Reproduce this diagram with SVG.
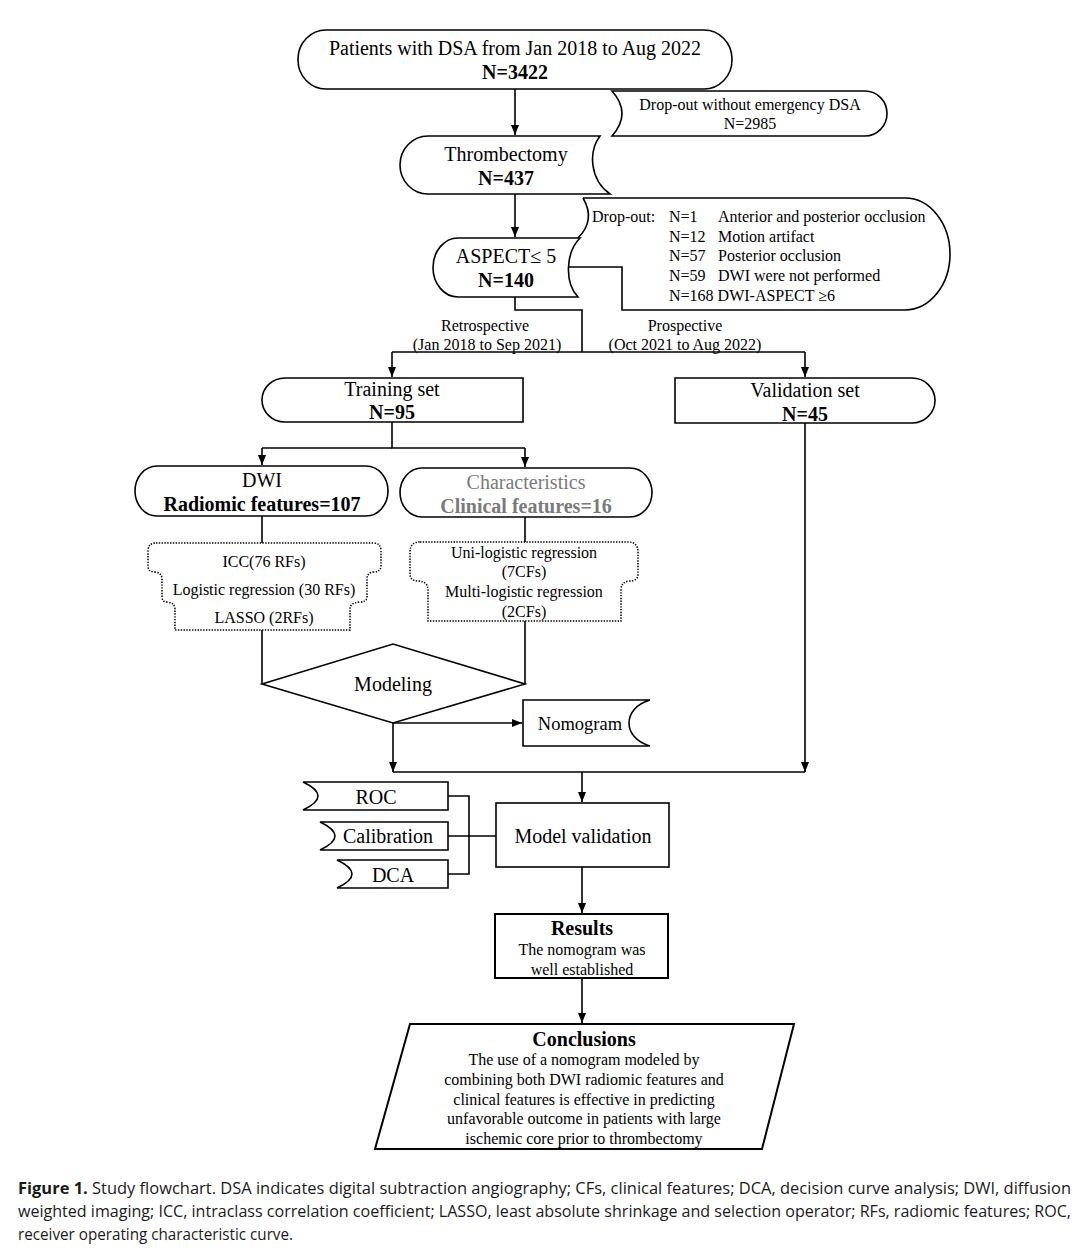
<svg xmlns="http://www.w3.org/2000/svg" width="1080" height="1256" viewBox="0 0 1080 1256">
<style>
.s{fill:#fff;stroke:#000;stroke-width:1.6}
.d{fill:#fff;stroke:#000;stroke-width:1.5;stroke-dasharray:1.4 1.4}
.c{fill:none;stroke:#000;stroke-width:1.6}
.t{font-family:"Liberation Serif","Times New Roman",serif;font-size:20px;fill:#000;text-anchor:middle}
.sm{font-size:16px}
.b{font-weight:bold}
.g{fill:#7a7a7a}
.l{text-anchor:start}
.cap{font-family:"Open Sans","Noto Sans",sans-serif;font-size:16px;fill:#1a1a1a}
</style>
<defs>
<marker id="ah" markerUnits="userSpaceOnUse" markerWidth="10" markerHeight="10" refX="10" refY="4" orient="auto">
<path d="M0,0 L10,4 L0,8 Z" fill="#000"/>
</marker>
</defs>
<rect width="1080" height="1256" fill="#fff"/>

<g id="connectors">
<path class="c" d="M515,89 V135" marker-end="url(#ah)"/>
<path class="c" d="M515,194 V237" marker-end="url(#ah)"/>
<path class="c" d="M515,297 V310 H582 V352"/>
<path class="c" d="M392,352 H805"/>
<path class="c" d="M392,352 V377" marker-end="url(#ah)"/>
<path class="c" d="M805,352 V377" marker-end="url(#ah)"/>
<path class="c" d="M392,422 V448 H525"/>
<path class="c" d="M262,448 H392"/>
<path class="c" d="M262,448 V465" marker-end="url(#ah)"/>
<path class="c" d="M525,448 V467" marker-end="url(#ah)"/>
<path class="c" d="M262,516 V543"/>
<path class="c" d="M525,517 V542"/>
<path class="c" d="M262,630 V684"/>
<path class="c" d="M525,621 V684"/>
<path class="c" d="M393,723 H522" marker-end="url(#ah)"/>
<path class="c" d="M393,723 V772" marker-end="url(#ah)"/>
<path class="c" d="M805,423 V772" marker-end="url(#ah)"/>
<path class="c" d="M393,772 H805"/>
<path class="c" d="M582,772 V802" marker-end="url(#ah)"/>
<path class="c" d="M448,796 H469 V874 H448"/>
<path class="c" d="M448,836 H496"/>
<path class="c" d="M582,867 V913" marker-end="url(#ah)"/>
<path class="c" d="M582,978 V1023" marker-end="url(#ah)"/>
</g>

<g id="start">
<rect class="s" x="298" y="30" width="434" height="59" rx="28" ry="29"/>
<text class="t" x="515" y="55">Patients with DSA from Jan 2018 to Aug 2022</text>
<text class="t b" x="515" y="79">N=3422</text>
</g>

<g id="dropout1">
<path class="s" d="M612,91 L865,91 A22,22.5 0 0 1 865,136 L612,136 Q632,113.5 612,91 Z"/>
<text class="t sm" x="750" y="110">Drop-out without emergency DSA</text>
<text class="t sm" x="750" y="129">N=2985</text>
</g>

<g id="thrombectomy">
<path class="s" d="M428,136 L600,136 C588,152 590,180 610,194 L428,194 A28,29 0 0 1 428,136 Z"/>
<text class="t" x="506" y="161">Thrombectomy</text>
<text class="t b" x="506" y="185">N=437</text>
</g>

<g id="dropout2">
<path class="s" d="M583,198 L905,198 A45,56 0 0 1 905,310 L622,310 L622,267 L569,267"/>
<path class="c" d="M583,198 Q596,220 578,238"/>
<text class="t sm l" x="592" y="222">Drop-out:</text>
<text class="t sm l" x="669" y="222">N=1</text>
<text class="t sm l" x="718" y="222">Anterior and posterior occlusion</text>
<text class="t sm l" x="669" y="242">N=12</text>
<text class="t sm l" x="718" y="242">Motion artifact</text>
<text class="t sm l" x="669" y="261">N=57</text>
<text class="t sm l" x="718" y="261">Posterior occlusion</text>
<text class="t sm l" x="669" y="281">N=59</text>
<text class="t sm l" x="718" y="281">DWI were not performed</text>
<text class="t sm l" x="669" y="301">N=168 DWI-ASPECT ≥6</text>
</g>

<g id="aspect">
<path class="s" d="M458,238 L580,238 C566,252 564,282 578,297 L458,297 A25,29.5 0 0 1 458,238 Z"/>
<text class="t" x="506" y="263">ASPECT≤ 5</text>
<text class="t b" x="506" y="287">N=140</text>
</g>

<g id="labels">
<text class="t sm" x="485" y="331">Retrospective</text>
<text class="t sm" x="487" y="350">(Jan 2018 to Sep 2021)</text>
<text class="t sm" x="685" y="331">Prospective</text>
<text class="t sm" x="685" y="350">(Oct 2021 to Aug 2022)</text>
</g>

<g id="training">
<path class="s" d="M285,378 L523,378 L523,422 L285,422 A23,22 0 0 1 285,378 Z"/>
<text class="t" x="392" y="396">Training set</text>
<text class="t b" x="392" y="419">N=95</text>
</g>

<g id="validation">
<path class="s" d="M675,378 L912,378 A23,22.5 0 0 1 912,423 L675,423 Z"/>
<text class="t" x="805" y="397">Validation set</text>
<text class="t b" x="805" y="421">N=45</text>
</g>

<g id="dwi">
<rect class="s" x="135" y="466" width="253" height="50" rx="22" ry="25"/>
<text class="t" x="262" y="487">DWI</text>
<text class="t b" x="262" y="511">Radiomic features=107</text>
</g>

<g id="characteristics">
<rect class="s" x="400" y="468" width="252" height="49" rx="22" ry="24.5"/>
<text class="t g" x="526" y="489">Characteristics</text>
<text class="t b g" x="526" y="513">Clinical features=16</text>
</g>

<g id="rf-selection">
<path class="d" d="M156,543 H373 Q381,543 381,551 V566 Q381,572 373,572 Q367,573 367,579 V597 Q367,602 359,602 Q350,603 350,609 V630 H175 V609 Q175,603 167,602 Q162,602 162,597 V579 Q162,573 155,572 Q148,572 148,566 V551 Q148,543 156,543 Z"/>
<text class="t sm" x="264" y="567">ICC(76 RFs)</text>
<text class="t sm" x="264" y="595">Logistic regression (30 RFs)</text>
<text class="t sm" x="264" y="623">LASSO (2RFs)</text>
</g>

<g id="cf-selection">
<path class="d" d="M420,542 H628 Q638,542 638,552 V574 Q638,581 629,581 Q621,582 621,590 V621 H428 V590 Q428,582 419,581 Q410,581 410,574 V552 Q410,542 420,542 Z"/>
<text class="t sm" x="524" y="558">Uni-logistic regression</text>
<text class="t sm" x="524" y="577">(7CFs)</text>
<text class="t sm" x="524" y="597">Multi-logistic regression</text>
<text class="t sm" x="524" y="617">(2CFs)</text>
</g>

<g id="modeling">
<polygon class="s" points="262,684 393,644 525,684 393,723"/>
<text class="t" x="393" y="691">Modeling</text>
</g>

<g id="nomogram">
<path class="s" d="M650,700 H523 V746 H650 C622,738 622,708 650,700 Z"/>
<text class="t" x="580" y="730" style="font-size:18.5px">Nomogram</text>
</g>

<g id="roc">
<path class="s" d="M303,782 H448 V810 H303 Q333,796 303,782 Z"/>
<text class="t" x="376" y="804">ROC</text>
</g>
<g id="calibration">
<path class="s" d="M320,822 H448 V850 H320 Q350,836 320,822 Z"/>
<text class="t" x="388" y="843">Calibration</text>
</g>
<g id="dca">
<path class="s" d="M337,860 H448 V888 H337 Q367,874 337,860 Z"/>
<text class="t" x="393" y="882">DCA</text>
</g>

<g id="model-validation">
<rect class="s" x="496" y="803" width="173" height="64"/>
<text class="t" x="583" y="843">Model validation</text>
</g>

<g id="results">
<rect class="s" x="495" y="914" width="173" height="64" style="stroke-width:2"/>
<text class="t b" x="582" y="935">Results</text>
<text class="t sm" x="582" y="955">The nomogram was</text>
<text class="t sm" x="582" y="975">well established</text>
</g>

<g id="conclusions">
<polygon class="s" points="410,1024 794,1024 762,1149 375,1149" style="stroke-width:2"/>
<text class="t b" x="584" y="1046">Conclusions</text>
<text class="t sm" x="584" y="1065">The use of a nomogram modeled by</text>
<text class="t sm" x="584" y="1085">combining both DWI radiomic features and</text>
<text class="t sm" x="584" y="1105">clinical features is effective in predicting</text>
<text class="t sm" x="584" y="1124">unfavorable outcome in patients with large</text>
<text class="t sm" x="584" y="1144">ischemic core prior to thrombectomy</text>
</g>

<g id="caption">
<text class="cap" x="18" y="1194" textLength="1053" lengthAdjust="spacingAndGlyphs"><tspan font-weight="bold">Figure 1.</tspan> Study flowchart. DSA indicates digital subtraction angiography; CFs, clinical features; DCA, decision curve analysis; DWI, diffusion</text>
<text class="cap" x="18" y="1217" textLength="1053" lengthAdjust="spacingAndGlyphs">weighted imaging; ICC, intraclass correlation coefficient; LASSO, least absolute shrinkage and selection operator; RFs, radiomic features; ROC,</text>
<text class="cap" x="18" y="1240" textLength="275" lengthAdjust="spacingAndGlyphs">receiver operating characteristic curve.</text>
</g>
</svg>
